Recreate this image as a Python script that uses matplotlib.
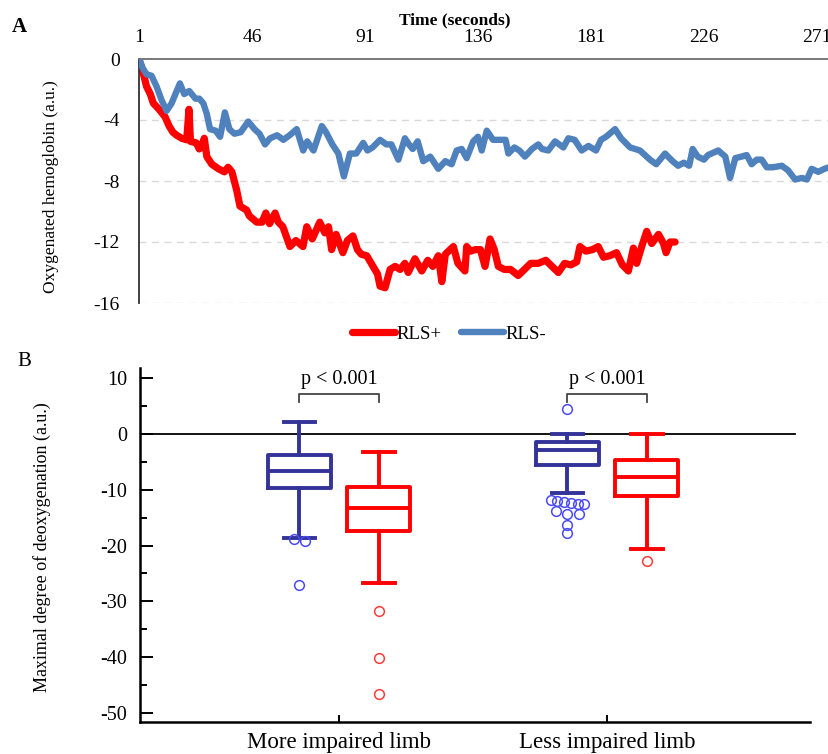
import matplotlib.pyplot as plt
from matplotlib.ticker import MultipleLocator

plt.rcParams['font.family'] = ['Liberation Serif', 'DejaVu Serif']
plt.rcParams['axes.unicode_minus'] = False

# ---- panel A: oxygenated hemoglobin over time ----
red_t = [1, 2.5, 4, 5.5, 6.7, 9, 11.4, 13, 14.5, 16, 18, 20, 20.9, 21.5, 23.8, 25, 26, 27, 28, 30,
         32.6, 35, 36.5, 38, 39.9, 41.2, 43.8, 45, 47.9, 50, 51.5, 53, 55.2, 56.5, 58.3, 61.1, 63.5,
         66.3, 67.8, 70, 73, 75, 76.5, 77.7, 79.5, 82.2, 84, 86.2, 88, 89.5, 91.7, 94.2, 96, 97, 99,
         101, 103, 105, 106.9, 108.2, 110.9, 113.6, 116, 118, 120.2, 121.6, 123, 126.2, 128, 130.8,
         131.5, 133, 135, 137, 138.8, 140.8, 142.5, 144.1, 146.5, 149, 152, 154.5, 157, 160, 163,
         165.5, 168, 170.5, 173, 175.3, 176.6, 179, 181.6, 183.9, 186, 188.5, 191.2, 193.5, 195.9,
         197.9, 199.2, 201.2, 203.2, 205.2, 207.9, 209.9, 210.9, 212.5, 214.5]
red_v = [0, -0.8, -1.8, -2.3, -2.9, -3.3, -3.8, -4.4, -4.8, -5.0, -5.2, -5.3, -3.3, -5.4, -5.5, -5.9,
         -5.7, -5.2, -6.4, -6.9, -7.2, -7.4, -7.1, -7.4, -8.6, -9.65, -9.9, -10.3, -10.7, -10.7, -10.1,
         -10.8, -10.1, -10.7, -11.0, -12.3, -11.9, -12.3, -11.0, -11.8, -10.7, -11.4, -11.0, -12.5,
         -11.5, -12.7, -11.9, -11.6, -12.5, -12.8, -12.9, -13.6, -14.1, -14.9, -15.0, -13.8, -13.6,
         -13.8, -13.4, -14.0, -13.1, -13.9, -13.2, -13.6, -12.9, -14.6, -12.8, -12.3, -13.4, -13.9,
         -12.3, -12.6, -12.5, -12.5, -13.6, -11.8, -12.5, -13.6, -13.8, -13.8, -14.2, -13.8, -13.4,
         -13.4, -13.2, -13.6, -14.0, -13.4, -13.5, -13.3, -12.3, -12.6, -12.5, -12.3, -13.0, -12.9,
         -12.7, -13.5, -13.9, -12.4, -13.4, -12.3, -11.3, -12.1, -11.5, -12.1, -12.7, -12.0, -12.0]

blue_t = [1, 2.5, 4, 6, 8, 10, 12, 14, 15.5, 17.3, 19, 21, 23.5, 25, 26.6, 28, 29.3, 31.5, 33.3, 35.2,
          37, 39, 41.5, 44.5, 47, 49, 51.2, 53.2, 56, 58.5, 61, 63.8, 66.4, 68, 70.5, 73.8, 75.5, 78,
          80.4, 82.6, 85, 87.5, 90.3, 92, 94, 97, 99.5, 101.5, 104.3, 106.9, 108.5, 110, 112, 114.2,
          117, 120.2, 123, 125.5, 127.5, 129.5, 131.5, 134.1, 136, 137.5, 139.5, 142, 144.5, 147,
          148.1, 150.5, 152.5, 154.7, 157.5, 160, 161.5, 164, 166.7, 170, 172, 174.5, 177.3, 180, 183,
          185, 187, 190.6, 193, 196.6, 200.5, 202.5, 204.5, 207, 210.5, 213.5, 215.7, 218, 220.1,
          221.5, 223.5, 226, 227.6, 231.7, 234.5, 236.4, 238.5, 241, 243, 245, 247, 249, 251, 253.5,
          257, 259.5, 262.3, 265, 267, 268.9, 271.5, 274, 275.8]
blue_v = [0, -0.6, -1.0, -1.1, -1.8, -2.7, -3.4, -2.9, -2.3, -1.6, -2.3, -2.1, -2.6, -2.6, -2.9, -3.6,
          -4.6, -4.7, -5.1, -3.5, -4.6, -4.9, -4.8, -4.1, -4.6, -4.9, -5.6, -5.2, -5.0, -5.3, -5.0,
          -4.6, -6.0, -5.4, -6.0, -4.4, -4.8, -5.6, -6.2, -7.7, -6.2, -6.2, -5.5, -6.0, -5.8, -5.3,
          -5.6, -5.6, -6.6, -5.2, -5.6, -5.9, -5.4, -6.7, -6.4, -7.2, -6.7, -6.9, -6.0, -5.9, -6.5,
          -5.4, -5.1, -6.0, -4.7, -5.3, -5.3, -5.3, -6.2, -5.8, -6.0, -6.4, -5.9, -5.6, -5.9, -6.0,
          -5.4, -5.8, -5.2, -5.3, -6.0, -5.7, -6.0, -5.3, -5.1, -4.6, -5.2, -5.8, -6.0, -6.3, -6.6,
          -6.9, -6.2, -6.7, -7.0, -6.8, -7.0, -5.9, -6.4, -6.6, -6.3, -6.0, -6.4, -7.8, -6.5, -6.4,
          -6.3, -6.9, -6.6, -6.6, -7.1, -7.1, -7.0, -7.3, -7.9, -7.8, -7.9, -7.2, -7.4, -7.2, -7.1]

time_ticks = [1, 46, 91, 136, 181, 226, 271]
hb_ticks = [0, -4, -8, -12, -16]

# ---- panel B: box plot summaries ----
groups = ['More impaired limb', 'Less impaired limb']
rls_neg_stats = [  # blue: q1, median, q3, whiskers, outliers
    dict(q1=-9.7, med=-6.6, q3=-3.8, whislo=-18.7, whishi=2.2, fliers=[-18.8, -19.2, -27.0]),
    dict(q1=-5.5, med=-2.8, q3=-1.5, whislo=-10.6, whishi=0.0,
         fliers=[4.4, -12.6, -12.5, -12.4, -12.2, -12.0, -11.8, -14.3, -14.3, -13.8, -16.4, -17.7]),
]
rls_pos_stats = [  # red
    dict(q1=-17.4, med=-13.3, q3=-9.6, whislo=-26.7, whishi=-3.2, fliers=[-31.8, -40.1, -46.5]),
    dict(q1=-11.2, med=-7.8, q3=-4.7, whislo=-20.7, whishi=0.0, fliers=[-22.8]),
]
p_labels = ['p < 0.001', 'p < 0.001']

fig = plt.figure(figsize=(8.29, 7.54), dpi=100)

# ================= A =================
axA = fig.add_axes([139 / 829, 1 - 303 / 754, 690 / 829, 244 / 754])
for y in hb_ticks[1:]:
    axA.axhline(y, color='#D9D9D9', lw=1, ls=(0, (5, 4)), zorder=0)
axA.plot(red_t, red_v, color='#FF0000', lw=5.2, solid_joinstyle='round',
         solid_capstyle='round', label='RLS+', zorder=2)
axA.plot(blue_t, blue_v, color='#4F81BD', lw=4.6, solid_joinstyle='round',
         solid_capstyle='round', label='RLS-', zorder=3)
axA.set_xlim(1, 275.8)
axA.set_ylim(-16, 0)
axA.xaxis.tick_top()
axA.set_xticks(time_ticks)
axA.set_yticks(hb_ticks)
axA.tick_params(axis='x', length=0, pad=9, labelsize=14)
axA.tick_params(axis='y', length=0, pad=14, labelsize=14)
axA.spines['right'].set_visible(False)
axA.spines['bottom'].set_visible(False)
axA.spines['top'].set_color('#6E6E6E')
axA.spines['top'].set_linewidth(1.3)
axA.spines['left'].set_color('#333333')
axA.spines['left'].set_linewidth(1.3)
axA.set_ylabel('Oxygenated hemoglobin (a.u.)', fontsize=12.5)
axA.yaxis.set_label_coords(-0.116, 0.477)
axA.legend(loc='center', bbox_to_anchor=(449 / 829, 1 - 334 / 754),
           bbox_transform=fig.transFigure, ncol=2, frameon=False, fontsize=13.5,
           handlelength=2.3, handletextpad=0.1, columnspacing=1.0)

fig.text(455 / 829, 1 - 20 / 754, 'Time (seconds)', fontsize=12.5, fontweight='bold',
         ha='center', va='center')
fig.text(12 / 829, 1 - 27 / 754, 'A', fontsize=15, fontweight='bold', ha='left', va='center')

# ================= B =================
axB = fig.add_axes([140 / 829, 1 - 722 / 754, 670 / 829, 354 / 754])
offset = 0.148
box_w = 0.235
centers = list(range(len(groups)))


def draw_boxes(stats, pos, line_col, flier_col):
    props = dict(color=line_col, linewidth=2.8)
    axB.bxp(stats, positions=pos, widths=box_w, showfliers=False,
            boxprops=props, whiskerprops=props, capprops=props, medianprops=props)
    for st, p in zip(stats, pos):
        # side-by-side placement of outliers with close values
        vals = sorted(st['fliers'], reverse=True)
        rows = []
        for v in vals:
            if rows and abs(rows[-1][0] - v) < 1.0:
                rows[-1].append(v)
            else:
                rows.append([v])
        for row in rows:
            n = len(row)
            step = 0.025 if n > 3 else 0.042
            xs = [p + (i - (n - 1) / 2) * step for i in range(n)]
            axB.plot(xs, row, 'o', mfc='none', mec=flier_col, ms=7, mew=1.1, zorder=4)


draw_boxes(rls_neg_stats, [c - offset for c in centers], '#333399', '#4A4AF5')
draw_boxes(rls_pos_stats, [c + offset for c in centers], '#FF0000', '#FF3B3B')

axB.set_xlim(-0.743, 1.757)
axB.set_ylim(-51.6, 11.8)
axB.axhline(0, xmax=0.978, color='black', lw=1.3, zorder=1)

for c, lab in zip(centers, p_labels):
    x0, x1 = c - offset, c + offset
    axB.plot([x0, x0, x1, x1], [5.8, 7.2, 7.2, 5.8], color='#444444', lw=1.3)
    axB.text(c, 9.7, lab, fontsize=14.5, ha='center', va='center')

axB.set_xticks(centers)
axB.set_xticklabels(groups, fontsize=16.5)
axB.yaxis.set_major_locator(MultipleLocator(10))
axB.yaxis.set_minor_locator(MultipleLocator(5))
axB.tick_params(axis='y', which='major', direction='in', length=9, width=1.4,
                labelsize=14.5, pad=9)
axB.tick_params(axis='y', which='minor', direction='in', length=5, width=1.4)
axB.tick_params(axis='x', direction='in', length=5, width=1.4, pad=7)
axB.spines['right'].set_visible(False)
axB.spines['top'].set_visible(False)
axB.spines['left'].set_linewidth(1.8)
axB.spines['bottom'].set_linewidth(1.8)
axB.set_ylabel('Maximal degree of deoxygenation (a.u.)', fontsize=13)
axB.yaxis.set_label_coords(-0.133, 0.494)

fig.text(17 / 829, 1 - 362 / 754, 'B', fontsize=15, ha='left', va='center')

fig.savefig('out.png', dpi=100)
